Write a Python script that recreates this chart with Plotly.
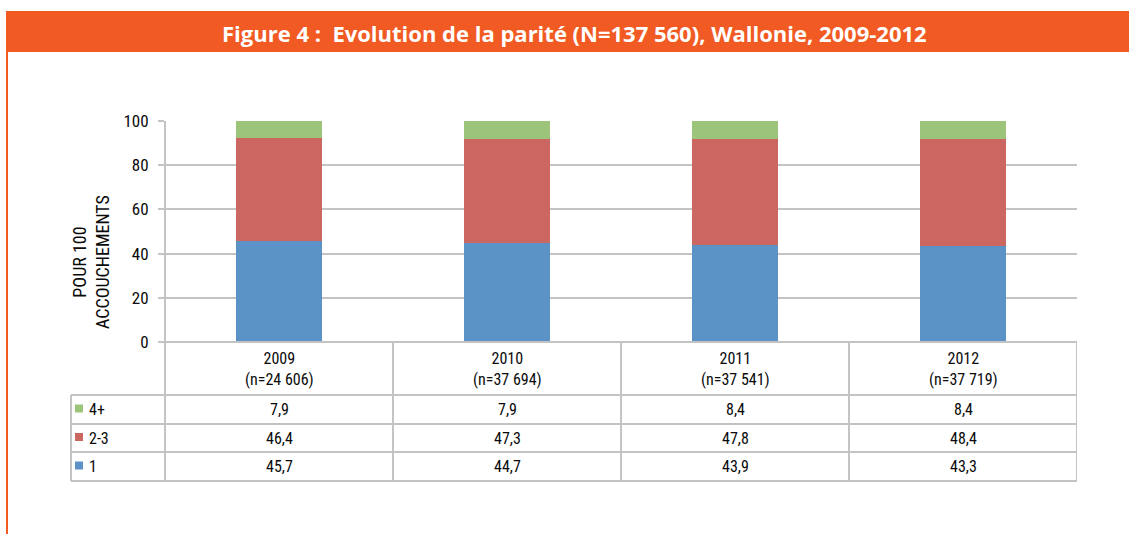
import plotly.graph_objects as go

years = ["2009", "2010", "2011", "2012"]
counts = ["24 606", "37 694", "37 541", "37 719"]
series_names = ["4+", "2-3", "1"]
v_4plus = [7.9, 7.9, 8.4, 8.4]
v_23 = [46.4, 47.3, 47.8, 48.4]
v_1 = [45.7, 44.7, 43.9, 43.3]
y_ticks = [0, 20, 40, 60, 80, 100]
title_text = "Figure 4 :  Evolution de la parité (N=137 560), Wallonie, 2009-2012"
y_title = "POUR 100<br>ACCOUCHEMENTS"

colors = {"4+": "#9DC47B", "2-3": "#CC6661", "1": "#5B93C6"}
values = {"4+": v_4plus, "2-3": v_23, "1": v_1}

W, H = 1129, 534
def py(px):
    return 1 - px / H
def pxx(px):
    return px / W

FONT = "Liberation Sans Narrow, Roboto Condensed, Arial Narrow, Liberation Sans, sans-serif"
GRID = "#C3C3C3"
TXT = "#0A0A0A"

fig = go.Figure()
for name in ["1", "2-3", "4+"]:
    fig.add_trace(go.Bar(x=years, y=values[name], name=name,
                         marker=dict(color=colors[name], line=dict(width=0)),
                         width=0.38, showlegend=False, hoverinfo="skip"))

plot_left, plot_right = 165, 1077
y0px, y100px = 342, 121
fig.update_layout(
    width=W, height=H, margin=dict(l=0, r=0, t=0, b=0, pad=0), autosize=False,
    paper_bgcolor="white", plot_bgcolor="white",
    barmode="stack",
    xaxis=dict(domain=[pxx(plot_left), pxx(plot_right)], range=[-0.5, 3.5],
               showticklabels=False, showgrid=False, zeroline=False, showline=False,
               fixedrange=True, automargin=False),
    yaxis=dict(domain=[py(y0px), py(y100px)], range=[0, 100], tickvals=y_ticks,
               showgrid=True, gridcolor=GRID, gridwidth=2, zeroline=False,
               showline=False, ticks="outside", ticklen=6, tickcolor=GRID, tickwidth=2,
               tickfont=dict(family=FONT, size=17, color=TXT), ticklabelstandoff=6,
               fixedrange=True, automargin=False),
    font=dict(family=FONT, color=TXT),
)

shapes = []
shapes.append(dict(type="rect", xref="paper", yref="paper", x0=pxx(6), x1=1, y0=py(52), y1=py(11),
                   fillcolor="#F15A22", line=dict(width=0), layer="below"))
shapes.append(dict(type="rect", xref="paper", yref="paper", x0=pxx(6), x1=pxx(8), y0=py(534), y1=py(52),
                   fillcolor="#F15A22", line=dict(width=0), layer="below"))

line = dict(color=GRID, width=2)
table_top, row_lines = 342, [395, 424, 452, 481]
table_left = 71
shapes.append(dict(type="line", xref="paper", yref="paper", x0=pxx(plot_left), x1=pxx(plot_left),
                   y0=py(481), y1=py(121), line=line))
shapes.append(dict(type="line", xref="paper", yref="paper", x0=pxx(plot_left), x1=pxx(plot_right),
                   y0=py(table_top), y1=py(table_top), line=line))
for i in range(1, len(years) + 1):
    xb = i - 0.5
    shapes.append(dict(type="line", xref="x", yref="paper", x0=xb, x1=xb,
                       y0=py(481), y1=py(table_top), line=line))
for r in row_lines:
    shapes.append(dict(type="line", xref="paper", yref="paper", x0=pxx(table_left), x1=pxx(plot_right),
                       y0=py(r), y1=py(r), line=line))
shapes.append(dict(type="line", xref="paper", yref="paper", x0=pxx(table_left), x1=pxx(table_left),
                   y0=py(481), y1=py(395), line=line))

annotations = []
annotations.append(dict(text="<b>" + title_text + "</b>", xref="paper", yref="paper",
                        x=pxx(574), y=py(33), showarrow=False, xanchor="center", yanchor="middle",
                        font=dict(family="Open Sans, Noto Sans, sans-serif", size=22, color="white")))
annotations.append(dict(text=y_title, xref="paper", yref="paper", x=pxx(91), y=py(262),
                        showarrow=False, textangle=-90, xanchor="center", yanchor="middle",
                        font=dict(family=FONT, size=18, color=TXT)))
for i, (yr, n) in enumerate(zip(years, counts)):
    annotations.append(dict(text=yr + "<br>(n=" + n + ")", xref="x", yref="paper", x=i, y=py(369),
                            showarrow=False, xanchor="center", yanchor="middle",
                            font=dict(family=FONT, size=16, color=TXT)))
row_centers = [409.5, 438, 466.5]
for name, yc in zip(series_names, row_centers):
    shapes.append(dict(type="rect", xref="paper", yref="paper", x0=pxx(75), x1=pxx(83),
                       y0=py(yc + 3), y1=py(yc - 5), fillcolor=colors[name], line=dict(width=0)))
    annotations.append(dict(text=name, xref="paper", yref="paper", x=pxx(87), y=py(yc),
                            showarrow=False, xanchor="left", yanchor="middle",
                            font=dict(family=FONT, size=16, color=TXT)))
    for i, v in enumerate(values[name]):
        annotations.append(dict(text=f"{v:.1f}".replace(".", ","), xref="x", yref="paper", x=i, y=py(yc),
                                showarrow=False, xanchor="center", yanchor="middle",
                                font=dict(family=FONT, size=16, color=TXT)))

fig.update_layout(shapes=shapes, annotations=annotations)
fig.write_html("out.html", config={"responsive": False, "displayModeBar": False},
               post_script="document.body.style.margin='0';document.body.style.overflow='hidden';"
                           "window.dispatchEvent(new Event('resize'));")
